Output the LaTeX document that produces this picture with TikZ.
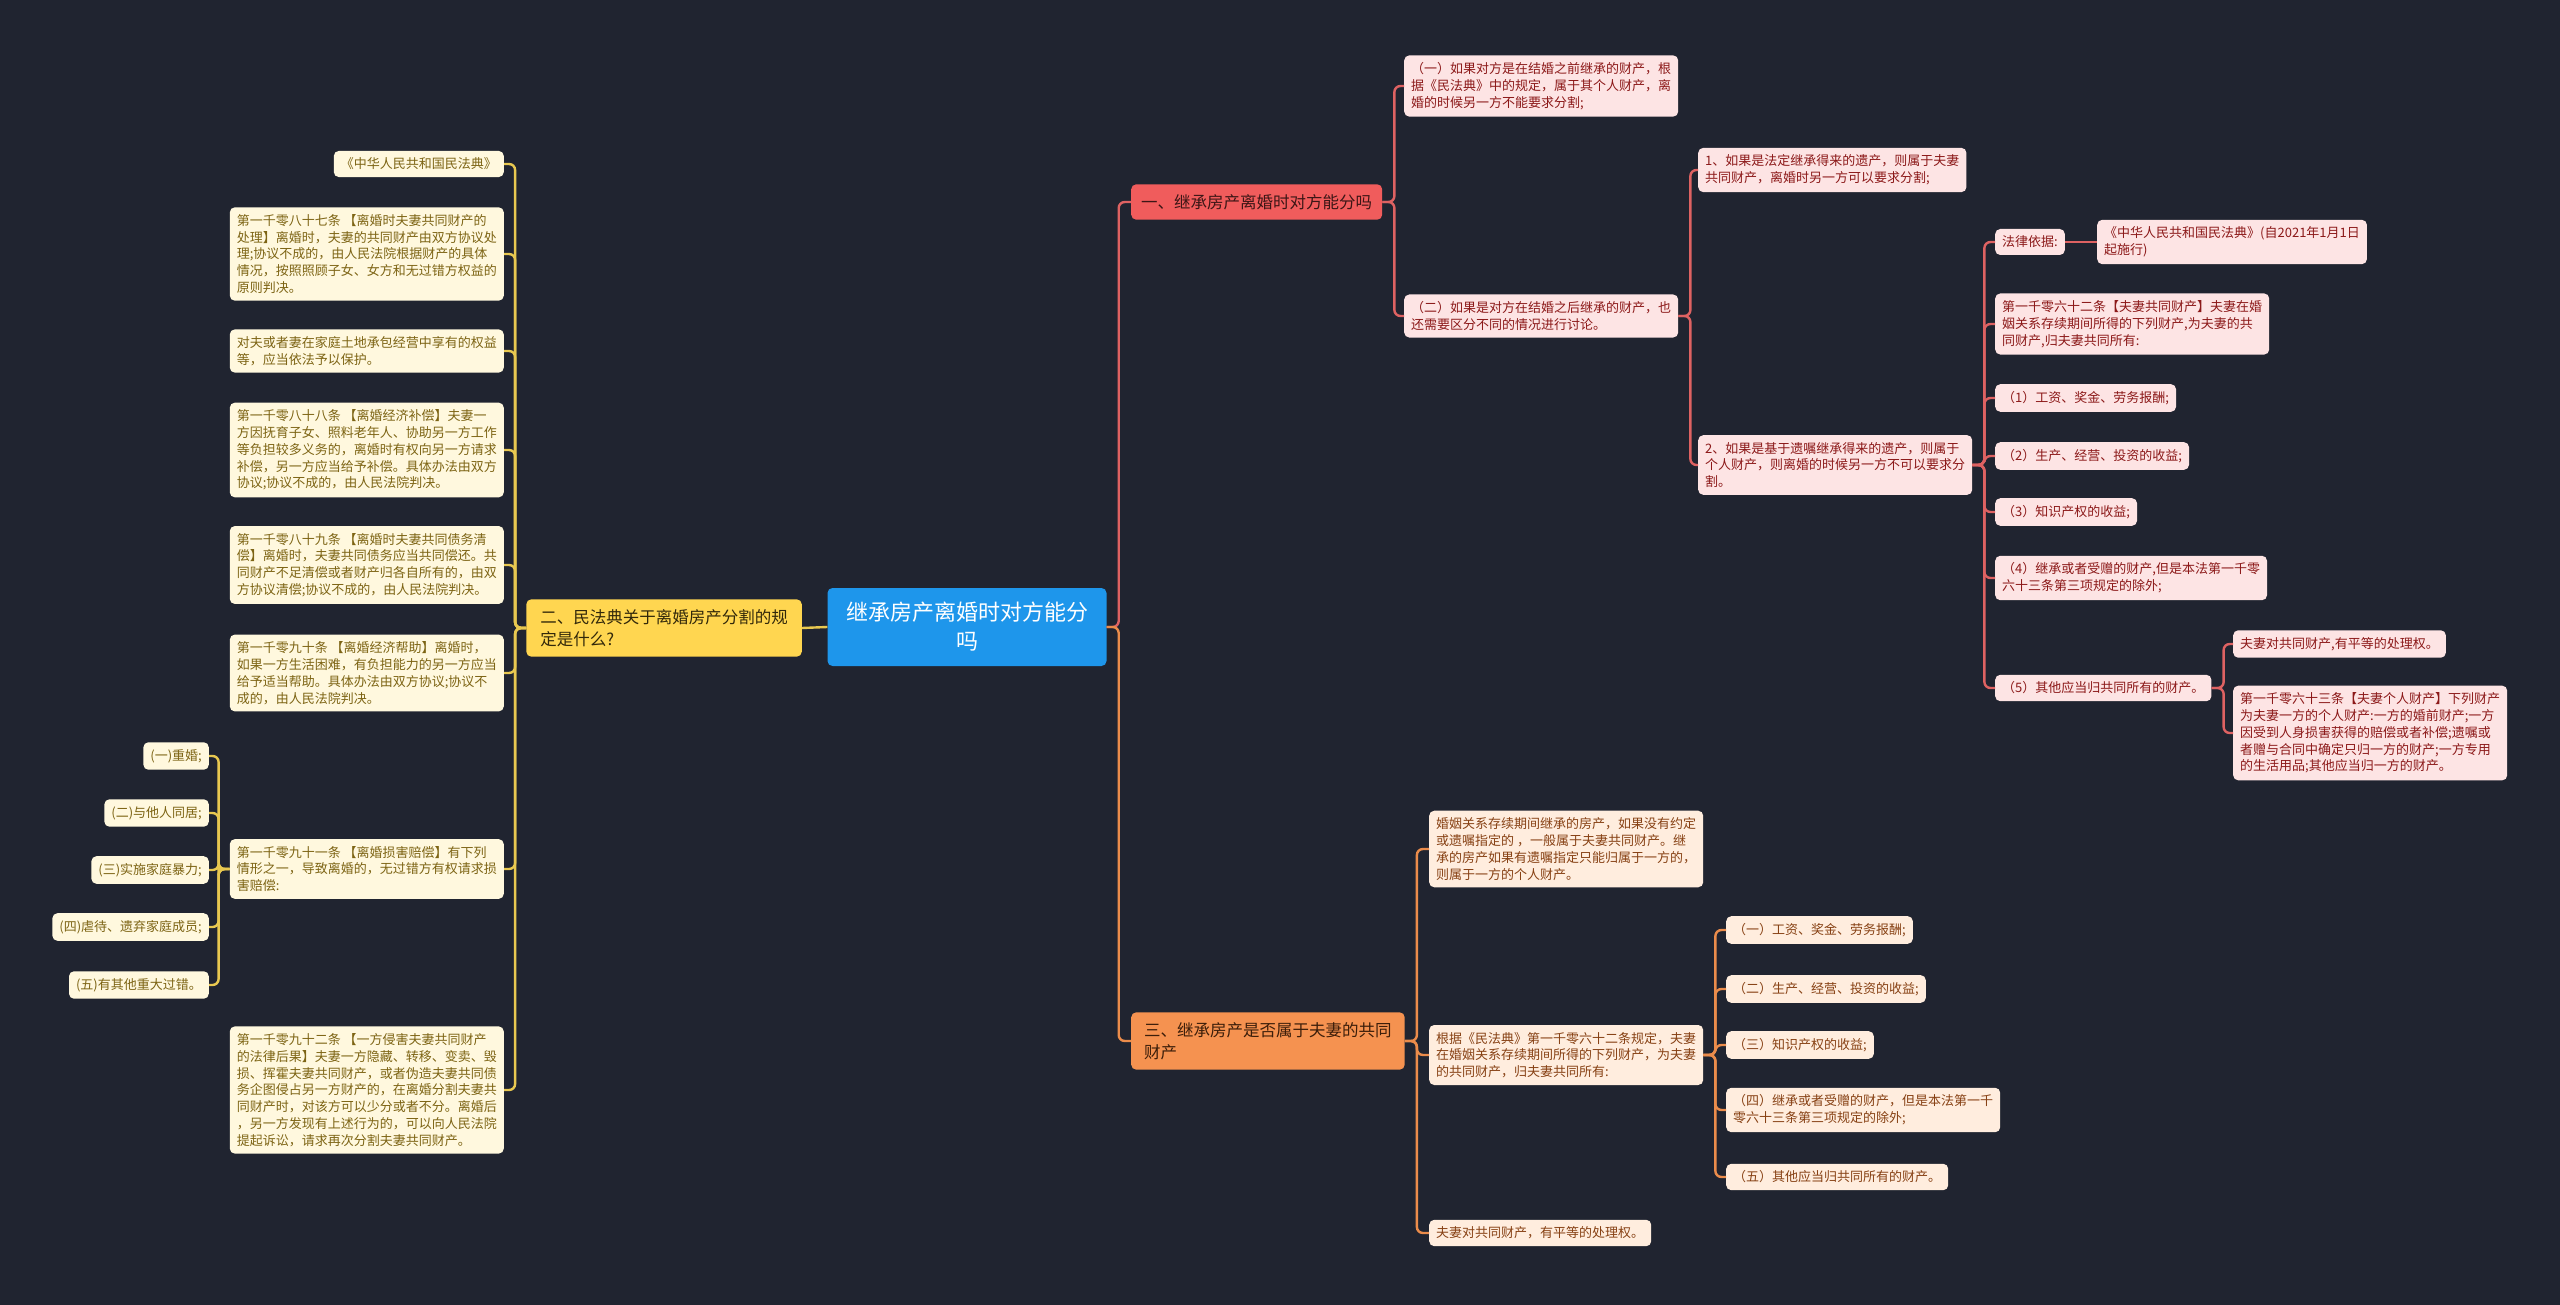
\documentclass[tikz,border=0pt]{standalone}
\usepackage{fontspec}
\setmainfont{Noto Sans CJK SC}
\definecolor{bg}{RGB}{32,36,48}
\definecolor{cblue}{RGB}{30,150,235}
\definecolor{cred}{RGB}{240,92,92}
\definecolor{credline}{RGB}{222,98,98}
\definecolor{cpink}{RGB}{253,228,228}
\definecolor{credtext}{RGB}{140,25,25}
\definecolor{credbr}{RGB}{60,22,22}
\definecolor{cyel}{RGB}{255,214,80}
\definecolor{cyelline}{RGB}{232,200,80}
\definecolor{ccream}{RGB}{255,248,222}
\definecolor{colive}{RGB}{125,100,20}
\definecolor{cyelbr}{RGB}{50,40,10}
\definecolor{corange}{RGB}{245,146,80}
\definecolor{corline}{RGB}{235,140,75}
\definecolor{cpeach}{RGB}{255,237,222}
\definecolor{cbrown}{RGB}{135,65,20}
\definecolor{corbr}{RGB}{60,30,10}
\tikzset{
  box/.style={rounded corners=5, inner xsep=7, inner ysep=7, align=left, font=\fontsize{13}{16.8}\selectfont},
  pinkbox/.style={box, fill=cpink, text=credtext},
  creambox/.style={box, fill=ccream, text=colive},
  peachbox/.style={box, fill=cpeach, text=cbrown},
  brbox/.style={rounded corners=5, inner xsep=10, inner ysep=10, align=left, font=\fontsize{16.5}{22}\selectfont},
  rbranch/.style={brbox, fill=cred, text=credbr},
  ybranch/.style={brbox, fill=cyel, text=cyelbr},
  obranch/.style={brbox, fill=corange, text=corbr},
  centerbox/.style={rounded corners=5, fill=cblue, text=white, align=center, minimum width=279, minimum height=78, inner xsep=12, font=\fontsize{22}{29}\selectfont},
  conn/.style={line width=2.4, rounded corners=6},
  rline/.style={conn, draw=credline},
  yline/.style={conn, draw=cyelline},
  oline/.style={conn, draw=corline}
}
\newcommand\rconn[3]{\draw[#1] (#2.east) -- ++(12,0) |- (#3.west);}
\newcommand\lconn[3]{\draw[#1] (#2.west) -- ++(-11,0) |- (#3.east);}
\begin{document}
\begin{tikzpicture}[x=1pt,y=-1pt]
\fill[bg] (0,0) rectangle (2560,1305);
\useasboundingbox (0,0) rectangle (2560,1305);

% centre and branches
\node[centerbox] (C) at (967,627) {继承房产离婚时对方能分\\吗};
\node[ybranch, anchor=east, inner xsep=14] (Y) at (802,628) {二、民法典关于离婚房产分割的规\\定是什么?};
\node[rbranch, anchor=west] (B1) at (1131,202) {一、继承房产离婚时对方能分吗};
\node[obranch, anchor=west, inner xsep=13] (B3) at (1131,1041) {三、继承房产是否属于夫妻的共同\\财产};

% left side
\node[creambox, anchor=east] (L1) at (504,164) {《中华人民共和国民法典》};
\node[creambox, anchor=east] (L2) at (504,254) {第一千零八十七条 【离婚时夫妻共同财产的\\处理】离婚时，夫妻的共同财产由双方协议处\\理;协议不成的，由人民法院根据财产的具体\\情况，按照照顾子女、女方和无过错方权益的\\原则判决。};
\node[creambox, anchor=east] (L3) at (504,351) {对夫或者妻在家庭土地承包经营中享有的权益\\等，应当依法予以保护。};
\node[creambox, anchor=east] (L4) at (504,450) {第一千零八十八条 【离婚经济补偿】夫妻一\\方因抚育子女、照料老年人、协助另一方工作\\等负担较多义务的，离婚时有权向另一方请求\\补偿，另一方应当给予补偿。具体办法由双方\\协议;协议不成的，由人民法院判决。};
\node[creambox, anchor=east] (L5) at (504,565) {第一千零八十九条 【离婚时夫妻共同债务清\\偿】离婚时，夫妻共同债务应当共同偿还。共\\同财产不足清偿或者财产归各自所有的，由双\\方协议清偿;协议不成的，由人民法院判决。};
\node[creambox, anchor=east] (L6) at (504,673) {第一千零九十条 【离婚经济帮助】离婚时，\\如果一方生活困难，有负担能力的另一方应当\\给予适当帮助。具体办法由双方协议;协议不\\成的，由人民法院判决。};
\node[creambox, anchor=east] (L7) at (504,869) {第一千零九十一条 【离婚损害赔偿】有下列\\情形之一，导致离婚的，无过错方有权请求损\\害赔偿:};
\node[creambox, anchor=east] (L8) at (504,1090) {第一千零九十二条 【一方侵害夫妻共同财产\\的法律后果】夫妻一方隐藏、转移、变卖、毁\\损、挥霍夫妻共同财产，或者伪造夫妻共同债\\务企图侵占另一方财产的，在离婚分割夫妻共\\同财产时，对该方可以少分或者不分。离婚后\\，另一方发现有上述行为的，可以向人民法院\\提起诉讼，请求再次分割夫妻共同财产。};
\node[creambox, anchor=east] (M1) at (209,756) {(一)重婚;};
\node[creambox, anchor=east] (M2) at (209,813) {(二)与他人同居;};
\node[creambox, anchor=east] (M3) at (209,870) {(三)实施家庭暴力;};
\node[creambox, anchor=east] (M4) at (209,927) {(四)虐待、遗弃家庭成员;};
\node[creambox, anchor=east] (M5) at (209,985) {(五)有其他重大过错。};

% right upper (red)
\node[pinkbox, anchor=west] (R1a) at (1404,86) {（一）如果对方是在结婚之前继承的财产，根\\据《民法典》中的规定，属于其个人财产，离\\婚的时候另一方不能要求分割;};
\node[pinkbox, anchor=west] (R1b) at (1404,316) {（二）如果是对方在结婚之后继承的财产，也\\还需要区分不同的情况进行讨论。};
\node[pinkbox, anchor=west] (R2a) at (1698,170) {1、如果是法定继承得来的遗产，则属于夫妻\\共同财产，离婚时另一方可以要求分割;};
\node[pinkbox, anchor=west] (R2b) at (1698,465) {2、如果是基于遗嘱继承得来的遗产，则属于\\个人财产，则离婚的时候另一方不可以要求分\\割。};
\node[pinkbox, anchor=west] (K1) at (1995,242) {法律依据:};
\node[pinkbox, anchor=west] (K1a) at (2097,242) {《中华人民共和国民法典》(自2021年1月1日\\起施行)};
\node[pinkbox, anchor=west] (K2) at (1995,324) {第一千零六十二条【夫妻共同财产】夫妻在婚\\姻关系存续期间所得的下列财产,为夫妻的共\\同财产,归夫妻共同所有:};
\node[pinkbox, anchor=west] (K3) at (1995,398) {（1）工资、奖金、劳务报酬;};
\node[pinkbox, anchor=west] (K4) at (1995,456) {（2）生产、经营、投资的收益;};
\node[pinkbox, anchor=west] (K5) at (1995,512) {（3）知识产权的收益;};
\node[pinkbox, anchor=west] (K6) at (1995,578) {（4）继承或者受赠的财产,但是本法第一千零\\六十三条第三项规定的除外;};
\node[pinkbox, anchor=west] (K7) at (1995,688) {（5）其他应当归共同所有的财产。};
\node[pinkbox, anchor=west] (K7a) at (2233,644) {夫妻对共同财产,有平等的处理权。};
\node[pinkbox, anchor=west] (K7b) at (2233,733) {第一千零六十三条【夫妻个人财产】下列财产\\为夫妻一方的个人财产:一方的婚前财产;一方\\因受到人身损害获得的赔偿或者补偿;遗嘱或\\者赠与合同中确定只归一方的财产;一方专用\\的生活用品;其他应当归一方的财产。};

% right lower (orange)
\node[peachbox, anchor=west] (O1) at (1429,849) {婚姻关系存续期间继承的房产，如果没有约定\\或遗嘱指定的 ，一般属于夫妻共同财产。继\\承的房产如果有遗嘱指定只能归属于一方的，\\则属于一方的个人财产。};
\node[peachbox, anchor=west] (O2) at (1429,1055) {根据《民法典》第一千零六十二条规定，夫妻\\在婚姻关系存续期间所得的下列财产，为夫妻\\的共同财产，归夫妻共同所有:};
\node[peachbox, anchor=west] (O3) at (1429,1233) {夫妻对共同财产，有平等的处理权。};
\node[peachbox, anchor=west] (P1) at (1726,930) {（一）工资、奖金、劳务报酬;};
\node[peachbox, anchor=west] (P2) at (1726,989) {（二）生产、经营、投资的收益;};
\node[peachbox, anchor=west] (P3) at (1726,1045) {（三）知识产权的收益;};
\node[peachbox, anchor=west] (P4) at (1726,1110) {（四）继承或者受赠的财产，但是本法第一千\\零六十三条第三项规定的除外;};
\node[peachbox, anchor=west] (P5) at (1726,1177) {（五）其他应当归共同所有的财产。};

% connectors
\draw[yline] (C.west) -- (Y.east);
\rconn{rline}{C}{B1}
\rconn{oline}{C}{B3}
\foreach \n in {L1,L2,L3,L4,L5,L6,L7,L8} {\lconn{yline}{Y}{\n}}
\foreach \n in {M1,M2,M3,M4,M5} {\lconn{yline}{L7}{\n}}
\foreach \n in {R1a,R1b} {\rconn{rline}{B1}{\n}}
\foreach \n in {R2a,R2b} {\rconn{rline}{R1b}{\n}}
\foreach \n in {K1,K2,K3,K4,K5,K6,K7} {\rconn{rline}{R2b}{\n}}
\draw[rline] (K1.east) -- (K1a.west);
\foreach \n in {K7a,K7b} {\rconn{rline}{K7}{\n}}
\foreach \n in {O1,O2,O3} {\rconn{oline}{B3}{\n}}
\foreach \n in {P1,P2,P3,P4,P5} {\rconn{oline}{O2}{\n}}
\end{tikzpicture}
\end{document}
